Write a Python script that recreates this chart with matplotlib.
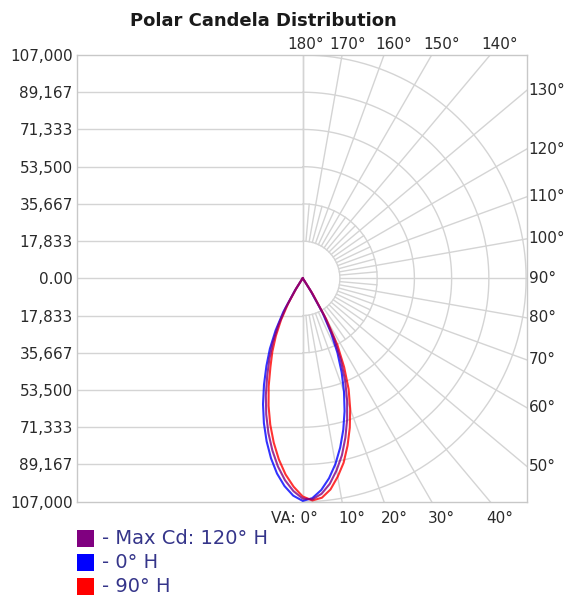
import numpy as np
import matplotlib
matplotlib.use("Agg")
import matplotlib.pyplot as plt
from matplotlib.patches import Rectangle

# ---------------- data ----------------
title = "Polar Candela Distribution"
max_cd = 107000
ring_step = 17833.33
tick_labels = ["107,000", "89,167", "71,333", "53,500", "35,667", "17,833", "0.00",
               "17,833", "35,667", "53,500", "71,333", "89,167", "107,000"]

# vertical angles (deg) at which candela values were read
va = [0, 2.5, 5, 7.5, 10, 12.5, 15, 17.5, 20, 22.5, 25, 27.5, 30, 32.5, 35, 37.5, 40, 45, 60, 75, 90]

# Max Cd plane (120° H) - right half / left half (cd)
maxcd_right = [105500, 106000, 103600, 99300, 93400, 86800, 79000, 70800, 62200, 53200, 43200,
               32600, 20700, 8000, 1200, 100, 0, 0, 0, 0, 0]
maxcd_left = [105500, 102000, 97100, 90900, 83700, 75900, 67500, 58700, 49700, 41700, 33800,
              25300, 16200, 6300, 1000, 0, 0, 0, 0, 0, 0]
# 0° H plane
h0_right = [106600, 105400, 101800, 96600, 90300, 83000, 75100, 66700, 57800, 48800, 39400,
            29300, 18900, 7000, 1000, 0, 0, 0, 0, 0, 0]
h0_left = [106600, 104200, 99900, 94300, 87500, 79900, 71800, 63200, 54200, 45400, 37200,
           28100, 18500, 7000, 1000, 0, 0, 0, 0, 0, 0]
# 90° H plane
h90_right = [104500, 106500, 105500, 102000, 96500, 90500, 83000, 75000, 66500, 57500, 47000,
             36000, 22500, 9000, 1500, 200, 0, 0, 0, 0, 0]
h90_left = [104500, 99900, 94300, 87500, 79900, 71800, 63200, 54200, 45200, 38000, 30400,
            22500, 14000, 5600, 1000, 0, 0, 0, 0, 0, 0]

series_names = ["- Max Cd: 120° H", "- 0° H", "- 90° H"]
series_colors = ["#800080", "#0000ff", "#ff0000"]
series_right = [maxcd_right, h0_right, h90_right]
series_left = [maxcd_left, h0_left, h90_left]
draw_order = [1, 2, 0]

top_angles = [180, 170, 160, 150, 140]
right_angles = [130, 120, 110, 100, 90, 80, 70, 60, 50]
bottom_angles = [0, 10, 20, 30, 40]

# ---------------- layout ----------------
W, H = 567, 599
px_left, px_right, px_top, px_bottom = 77.3, 526.7, 55.0, 501.7
cx, cy = 302.7, 278.3
px_per_R = 223.4
u = max_cd / px_per_R  # data units per pixel

fig = plt.figure(figsize=(W / 100, H / 100), dpi=100)
ax = fig.add_axes([px_left / W, (H - px_bottom) / H,
                   (px_right - px_left) / W, (px_bottom - px_top) / H])
xl = (-(cx - px_left) * u, (px_right - cx) * u)
yl = (-(px_bottom - cy) * u, (cy - px_top) * u)
ax.set_xlim(*xl)
ax.set_ylim(*yl)

grid_c = "#d4d4d4"
grid_lw = 1.0

# left half horizontal grid lines
ticks = [ring_step * k for k in range(6, -7, -1)]
ax.hlines([t for t in ticks if abs(t) < max_cd - 1], xl[0], 0, color=grid_c, lw=grid_lw, zorder=1)
ax.axvline(0, color=grid_c, lw=grid_lw, zorder=1)

# right half polar grid
th = np.radians(np.linspace(0, 180, 361))
for k in range(1, 7):
    r = ring_step * k
    ax.plot(r * np.sin(th), -r * np.cos(th), color=grid_c, lw=grid_lw, zorder=1)
for a in range(0, 181, 5):
    t = np.radians(a)
    r0 = ring_step
    r1 = 3 * max_cd if a % 10 == 0 else 2 * ring_step
    ax.plot([r0 * np.sin(t), r1 * np.sin(t)], [-r0 * np.cos(t), -r1 * np.cos(t)],
            color=grid_c, lw=grid_lw, zorder=1)

# curves
va_rad = np.radians(np.array(va))
for i in draw_order:
    col, rv, lv = series_colors[i], series_right[i], series_left[i]
    rv = np.array(rv, dtype=float)
    lv = np.array(lv, dtype=float)
    xs = np.concatenate([(-lv * np.sin(va_rad))[::-1], rv * np.sin(va_rad)])
    ys = np.concatenate([(-lv * np.cos(va_rad))[::-1], -rv * np.cos(va_rad)])
    ax.plot(xs, ys, color=col, lw=1.5, alpha=0.8, zorder=3, solid_joinstyle="round")

# axes styling
for sp in ax.spines.values():
    sp.set_color("#c8c8c8")
    sp.set_linewidth(1.0)
ax.set_xticks([])
ax.set_yticks(ticks)
ax.set_yticklabels(tick_labels)
ax.tick_params(axis="y", length=0, pad=3.3, labelsize=11, labelcolor="#2a2a2a")

txt_kw = dict(fontsize=11, color="#2a2a2a", annotation_clip=False)
# top labels
top_off = {180: 3, 170: 6}
for a in top_angles:
    x = yl[1] * np.tan(np.radians(180 - a))
    ax.annotate(f"{a}°", xy=(x, yl[1]), xycoords="data",
                xytext=(top_off.get(a, 10) * 0.72, 10.5 * 0.72), textcoords="offset points",
                ha="center", va="center", **txt_kw)
# right labels
for a in right_angles:
    t = np.radians(a)
    y = -xl[1] * np.cos(t) / np.sin(t)
    ax.annotate(f"{a}°", xy=(xl[1], y), xycoords="data",
                xytext=(2 * 0.72, 0), textcoords="offset points",
                ha="left", va="center", **txt_kw)
# bottom labels
for a in bottom_angles:
    x = -yl[0] * np.tan(np.radians(a))
    if a == 0:
        ax.annotate("VA: 0°", xy=(x, yl[0]), xycoords="data",
                    xytext=(15.5 * 0.72, -17 * 0.72), textcoords="offset points",
                    ha="right", va="center", **txt_kw)
    else:
        ax.annotate(f"{a}°", xy=(x, yl[0]), xycoords="data",
                    xytext=(10 * 0.72, -17 * 0.72), textcoords="offset points",
                    ha="center", va="center", **txt_kw)

# title
fig.text(263 / W, 1 - 21 / H, title, ha="center", va="center",
         fontsize=13, fontweight="bold", color="#1a1a1a")

# legend
row_y = [538.5, 562.0, 586.0]
for name, col, yy in zip(series_names, series_colors, row_y):
    fig.add_artist(Rectangle((77 / W, 1 - (yy + 8.5) / H), 17 / W, 17 / H,
                             transform=fig.transFigure, facecolor=col, edgecolor="none"))
    fig.text(102 / W, 1 - yy / H, name, ha="left", va="center", fontsize=14, color="#35358a")

fig.savefig("out.png", dpi=100)
